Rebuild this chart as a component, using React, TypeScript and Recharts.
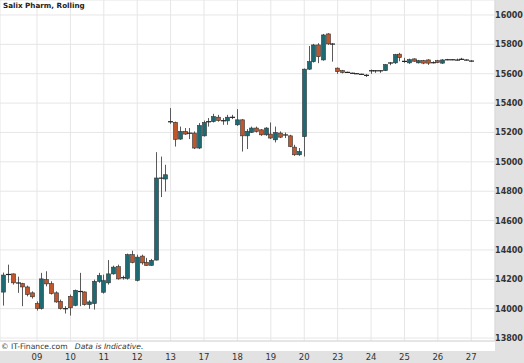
import { ComposedChart, Bar, XAxis, YAxis, CartesianGrid } from "recharts";

const dayLabels = ["09", "10", "11", "12", "13", "17", "18", "19", "20", "23", "24", "25", "26", "27"];
const dayStarts = [7, 14, 21, 28, 35, 42, 49, 56, 63, 70, 77, 84, 91, 98];
const priceTicks = [13800, 14000, 14200, 14400, 14600, 14800, 15000, 15200, 15400, 15600, 15800, 16000];

const opens = [
  14113, 14235, 14237, 14178, 14171, 14148, 14108,
  14035, 14001, 14198, 14171, 14108, 14050, 14002,
  14084, 14023, 14119, 14114, 14028, 14035, 14186,
  14112, 14176, 14237, 14286, 14213, 14207, 14368,
  14193, 14358, 14316, 14295, 14331, 14891, 14883,
  15275, 15269, 15155, 15207, 15197, 15196, 15094,
  15177, 15275, 15274, 15304, 15282, 15279, 15305,
  15252, 15286, 15177, 15200, 15230, 15218, 15184,
  15189, 15150, 15196, 15185, 15177, 15100, 15048,
  15172, 15631, 15682, 15796, 15694, 15871, 15804,
  15638, 15621, 15611, 15605, 15602, 15598, 15591,
  15622, 15622, 15622, 15621, 15675, 15674, 15733,
  15686, 15674, 15701, 15674, 15689, 15694, 15677,
  15689, 15672, 15697, 15697, 15695, 15700, 15695,
  15688,
];
const highs = [
  14246, 14300, 14240, 14218, 14176, 14157, 14118,
  14050, 14244, 14255, 14187, 14118, 14062, 14017,
  14096, 14130, 14244, 14118, 14057, 14198, 14244,
  14232, 14331, 14293, 14300, 14225, 14375, 14395,
  14368, 14368, 14346, 14339, 15066, 15036, 14980,
  15366, 15274, 15240, 15230, 15230, 15207, 15264,
  15281, 15298, 15327, 15320, 15298, 15320, 15320,
  15359, 15291, 15223, 15240, 15240, 15223, 15236,
  15268, 15240, 15207, 15200, 15184, 15116, 15094,
  15636, 15789, 15803, 15808, 15871, 15876, 15808,
  15643, 15626, 15614, 15607, 15604, 15600, 15597,
  15628, 15624, 15624, 15665, 15680, 15735, 15742,
  15708, 15703, 15705, 15694, 15694, 15699, 15684,
  15694, 15699, 15701, 15699, 15703, 15708, 15698,
  15692,
];
const lows = [
  14021, 14176, 14164, 14108, 14017, 14084, 14069,
  13987, 13994, 14152, 14096, 14040, 13994, 13967,
  13953, 14017, 14017, 14021, 13999, 13994, 14176,
  14103, 14164, 14232, 14198, 14198, 14198, 14309,
  14186, 14300, 14293, 14293, 14329, 14760, 14798,
  15259, 15104, 15150, 15184, 15155, 15087, 15087,
  15172, 15240, 15268, 15274, 15252, 15252, 15291,
  15245, 15070, 15087, 15196, 15200, 15177, 15177,
  15155, 15132, 15162, 15162, 15100, 15041, 15041,
  15036, 15626, 15676, 15672, 15689, 15796, 15682,
  15599, 15602, 15606, 15600, 15598, 15594, 15578,
  15599, 15606, 15606, 15618, 15658, 15667, 15685,
  15674, 15667, 15682, 15670, 15665, 15660, 15670,
  15672, 15667, 15692, 15692, 15690, 15695, 15690,
  15682,
];
const closes = [
  14229, 14233, 14176, 14175, 14148, 14096, 14081,
  14001, 14203, 14169, 14103, 14046, 14001, 14000,
  14006, 14125, 14117, 14028, 14046, 14186, 14225,
  14191, 14237, 14283, 14203, 14211, 14368, 14314,
  14351, 14312, 14295, 14329, 14890, 14889, 14912,
  15273, 15153, 15207, 15189, 15195, 15094, 15247,
  15268, 15273, 15308, 15281, 15280, 15304, 15303,
  15286, 15177, 15207, 15230, 15207, 15184, 15230,
  15162, 15200, 15168, 15183, 15104, 15048, 15070,
  15631, 15682, 15796, 15716, 15864, 15803, 15802,
  15614, 15609, 15609, 15603, 15600, 15596, 15589,
  15620, 15620, 15620, 15662, 15673, 15730, 15710,
  15684, 15696, 15685, 15689, 15672, 15672, 15675,
  15676, 15694, 15695, 15695, 15693, 15698, 15693,
  15686,
];

const data = opens.map((o, i) => ({
  i,
  o,
  h: highs[i],
  l: lows[i],
  c: closes[i],
  range: [lows[i], highs[i]],
}));

const UP = "#1d6a72";
const DOWN = "#c0562b";
const FONT = "'DejaVu Sans', Verdana, sans-serif";

function Candle(props: any) {
  const { x, y, width, height, payload } = props;
  if (!payload) return null;
  const { o, h, l, c } = payload;
  const top = Math.min(y, y + height);
  const span = Math.abs(height);
  const toY = (v: number) => (h === l ? top : top + ((h - v) / (h - l)) * span);
  const cx = Math.round(x + width / 2) + 0.5;
  const yo = toY(o);
  const yc = toY(c);
  const doji = Math.abs(c - o) < 4;
  const bodyTop = Math.min(yo, yc);
  const bodyH = Math.max(Math.abs(yo - yc), 1);
  return (
    <g>
      <line x1={cx} x2={cx} y1={top} y2={top + span} stroke="#5a5a5a" strokeWidth={1} />
      {doji ? (
        <line x1={cx - 2.5} x2={cx + 2.5} y1={yc} y2={yc} stroke="#222" strokeWidth={1.2} />
      ) : (
        <rect
          x={cx - 2}
          y={bodyTop}
          width={4}
          height={bodyH}
          fill={c >= o ? UP : DOWN}
          stroke="#333"
          strokeWidth={0.6}
        />
      )}
    </g>
  );
}

function DayTick(props: any) {
  const { x, payload } = props;
  const k = dayStarts.indexOf(payload.value);
  return (
    <text x={x} y={360} textAnchor="middle" fontSize={8.5} fill="#333" fontFamily={FONT}>
      {k >= 0 ? dayLabels[k] : ""}
    </text>
  );
}

function PriceTick(props: any) {
  const { y, payload } = props;
  return (
    <text x={509} y={y + 3} textAnchor="middle" fontSize={8} fontWeight="bold" fill="#333" fontFamily={FONT}>
      {payload.value}
    </text>
  );
}

export default function App() {
  return (
    <div style={{ position: "absolute", left: 0, top: 0, width: 524, height: 363, background: "#fff", overflow: "hidden" }}>
      <div style={{ position: "absolute", left: 495, top: 0, width: 29, height: 363, background: "#e2e2e2" }} />
      <div style={{ position: "absolute", left: 0, top: 351, width: 524, height: 12, background: "#e2e2e2" }} />
      <div style={{ position: "absolute", left: 0, top: 0 }}>
        <ComposedChart width={524} height={363} data={data} margin={{ top: 0, right: 0, bottom: 0, left: 0 }}>
          <CartesianGrid stroke="#e6e6e6" strokeWidth={1} />
          <XAxis
            type="number"
            dataKey="i"
            domain={[-0.75, 102.97]}
            allowDataOverflow
            ticks={dayStarts}
            interval={0}
            height={22}
            axisLine={{ stroke: "#d8d8d8" }}
            tickLine={false}
            tick={DayTick}
          />
          <YAxis
            orientation="right"
            domain={[13780, 16102]}
            allowDataOverflow
            ticks={priceTicks}
            interval={0}
            width={29}
            axisLine={{ stroke: "#d8d8d8" }}
            tickLine={false}
            tick={PriceTick}
          />
          <Bar dataKey="range" barSize={4} shape={Candle} isAnimationActive={false} />
        </ComposedChart>
      </div>
      <div style={{ position: "absolute", left: 3, top: 0, fontFamily: FONT, fontSize: 7.2, fontWeight: "bold", color: "#222", lineHeight: "11px" }}>
        Salix Pharm, Rolling
      </div>
      <div style={{ position: "absolute", left: 1, top: 342, fontFamily: FONT, fontSize: 7.6, color: "#333", lineHeight: "10px", whiteSpace: "pre" }}>
        {"© IT-Finance.com   "}
        <i>Data is Indicative.</i>
      </div>
    </div>
  );
}
